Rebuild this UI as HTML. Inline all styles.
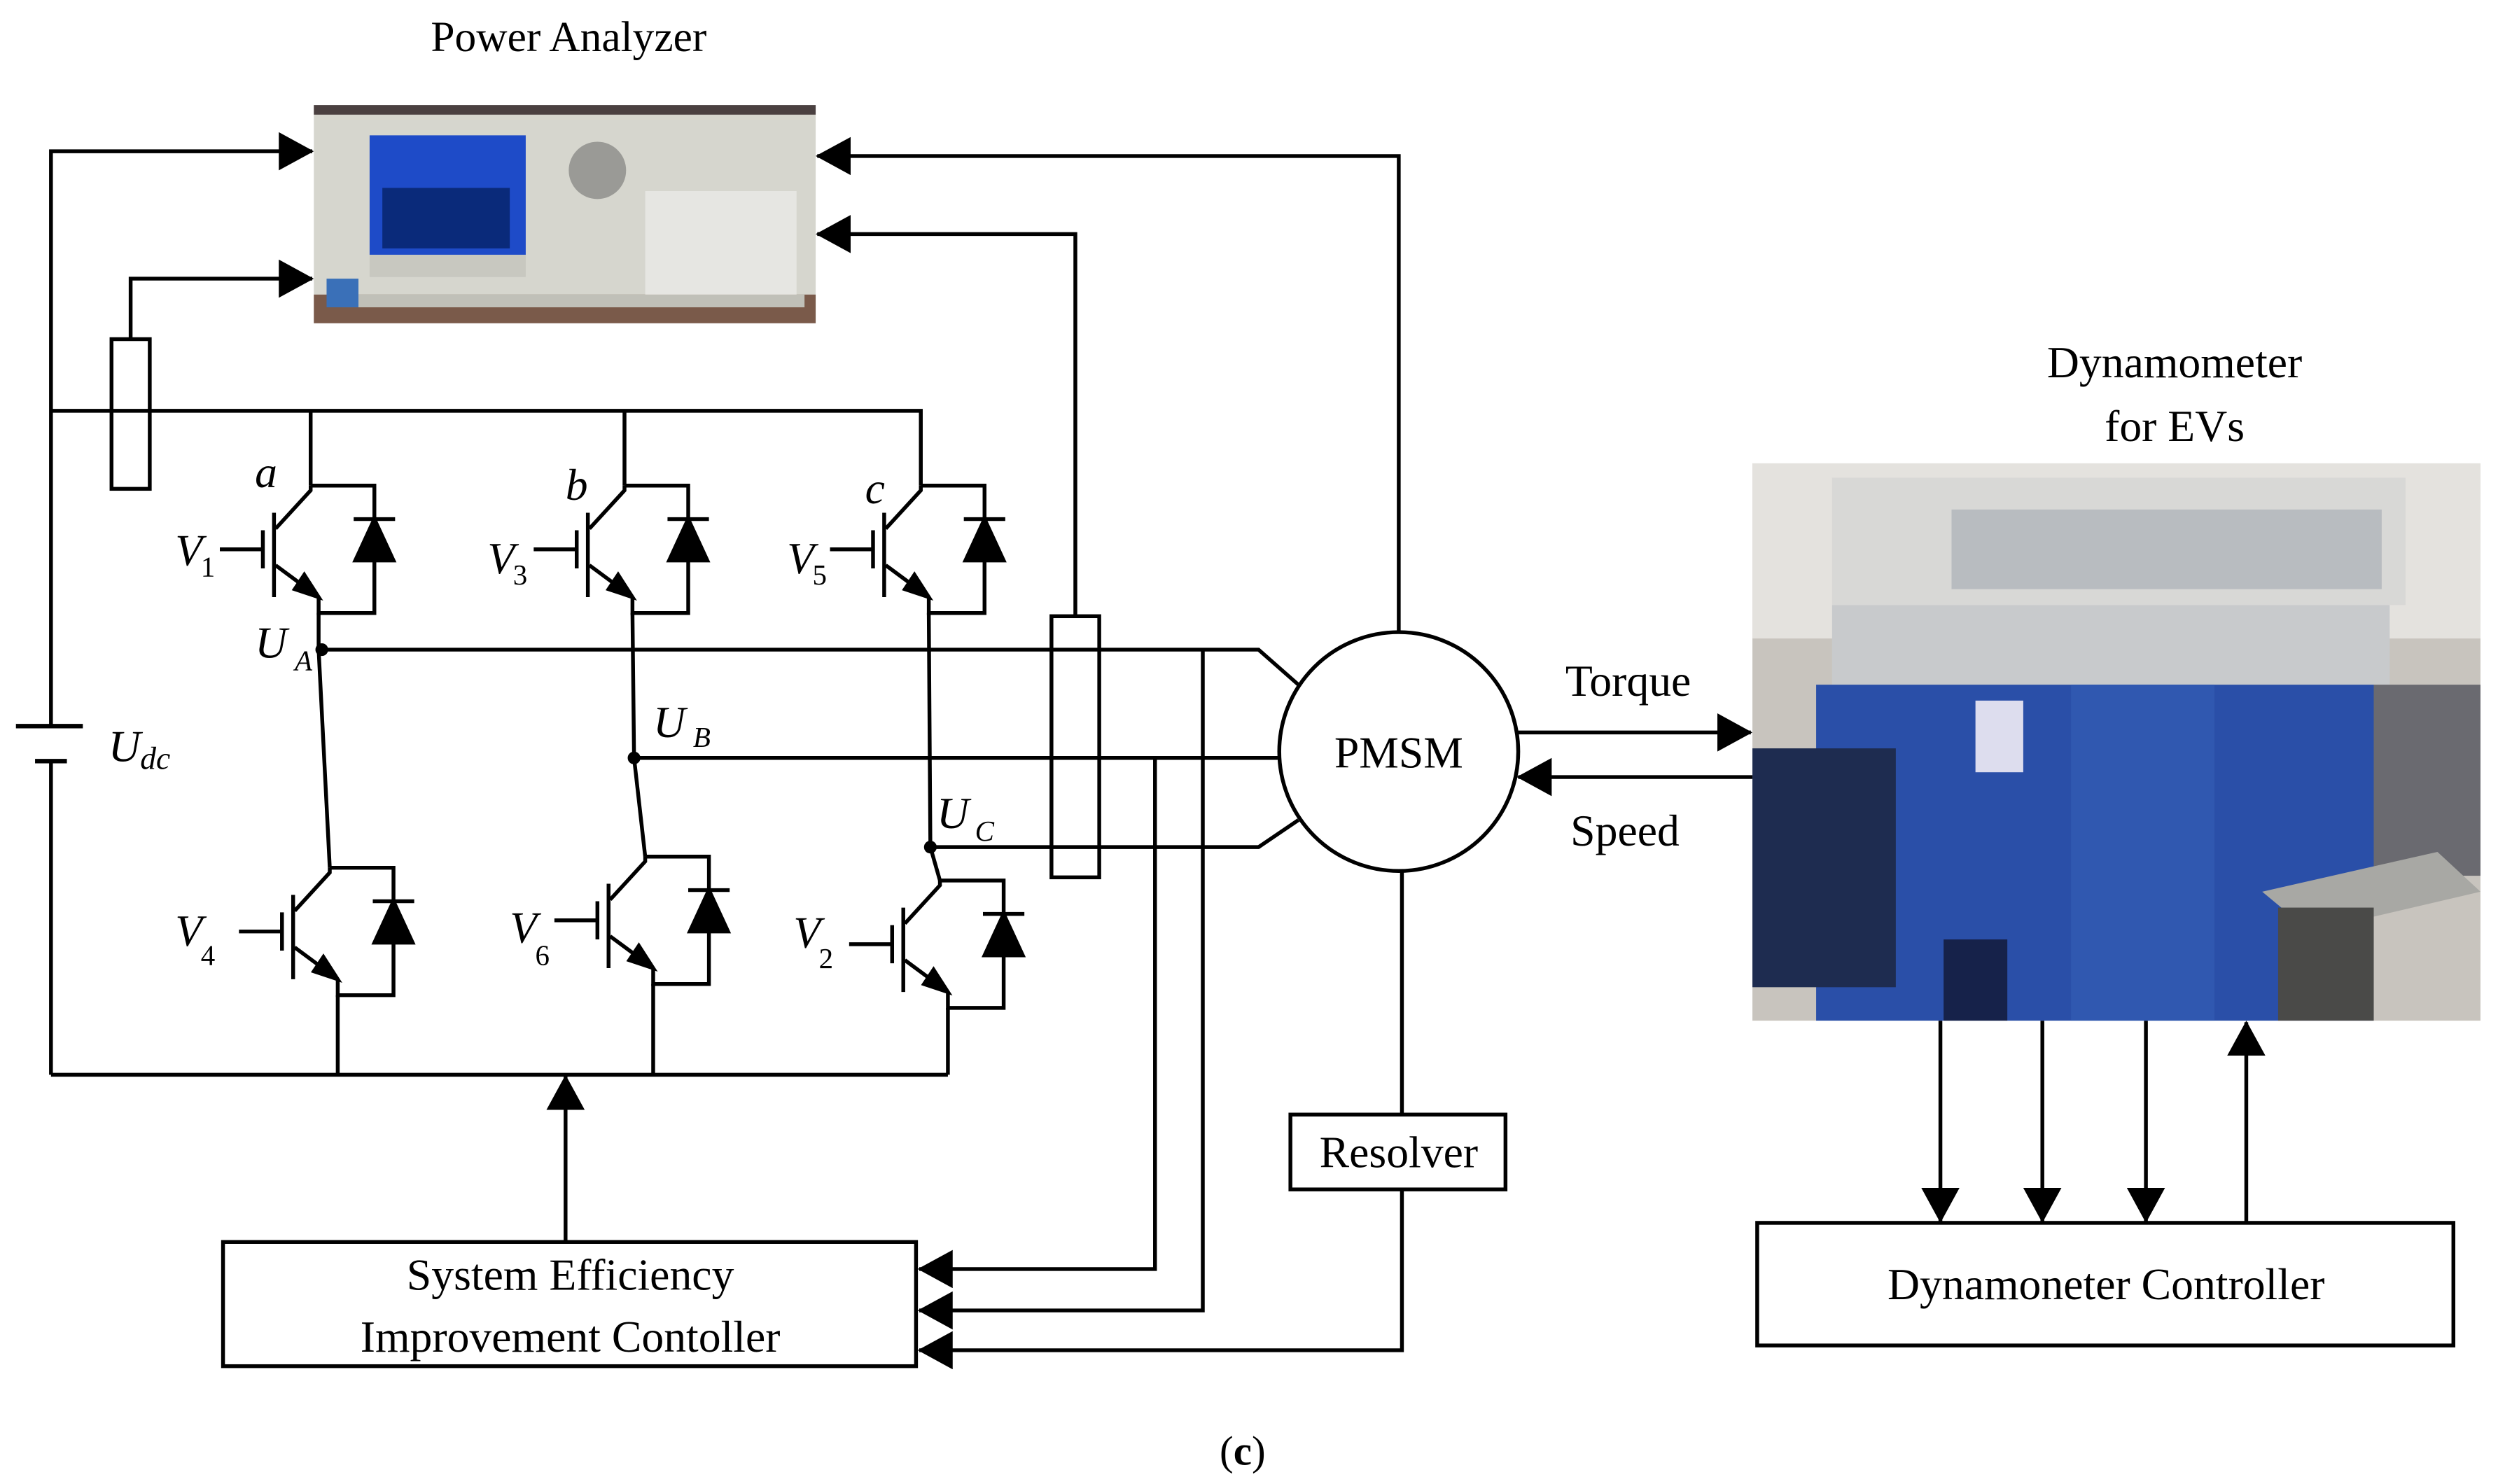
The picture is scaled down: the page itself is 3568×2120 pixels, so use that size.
<!DOCTYPE html>
<html><head><meta charset="utf-8"><style>
html,body{margin:0;padding:0;background:#fff}
svg{display:block}
text{font-family:"Liberation Serif",serif;fill:#000}
.i{font-style:italic}
</style></head><body>
<svg width="3568" height="2120" viewBox="0 0 1568 932" preserveAspectRatio="none" xmlns="http://www.w3.org/2000/svg">
<defs>
<marker id="ah" viewBox="0 0 22 24" refX="21" refY="12" markerWidth="22" markerHeight="24" markerUnits="userSpaceOnUse" orient="auto"><path d="M0,0L22,12L0,24z"/></marker>
<g id="igbt" fill="none" stroke="#000" stroke-width="2.4">
<path d="M0,0H40V80H5V70"/>
<path d="M0,0V3L-22,27"/>
<path d="M-23,17V70"/>
<path d="M-30,28V52M-57,40H-30"/>
<path d="M-22,50L5,70"/>
<path d="M5,70L-10,65L-4,56z" fill="#000"/>
<path d="M27,21H53"/>
<path d="M40,21L28,47H52z" fill="#000"/>
</g>
</defs>
<text x="357" y="32" font-size="27" text-anchor="middle">Power Analyzer</text>
<!-- power analyzer photo -->
<rect x="197" y="66" width="315" height="137" fill="#d6d6ce"/>
<rect x="197" y="66" width="315" height="6" fill="#4a4040"/>
<rect x="197" y="185" width="315" height="18" fill="#7a5a4a"/>
<rect x="215" y="185" width="290" height="8" fill="#c0c0b8"/>
<rect x="232" y="85" width="98" height="75" fill="#1e4bc8"/>
<rect x="240" y="118" width="80" height="38" fill="#0a2a7a"/>
<rect x="232" y="160" width="98" height="14" fill="#c8c8c0"/>
<circle cx="375" cy="107" r="18" fill="#9a9a96"/>
<rect x="405" y="120" width="95" height="65" fill="#e6e6e2"/>
<rect x="205" y="175" width="20" height="18" fill="#3a70b8"/>
<g fill="none" stroke="#000" stroke-width="2.4">
<path d="M32,675V478M32,456V95H196" marker-end="url(#ah)"/>
<path d="M82,213V175H196" marker-end="url(#ah)"/>
<rect x="70" y="213" width="24" height="94"/>
<path d="M10,456H52M22,478H42" stroke-width="2.8"/>
<path d="M32,258H578V305M195,258V305M392,258V305"/>
<path d="M32,675H595"/>
<path d="M200,385V408L207,545M212,625V675"/>
<path d="M397,385L398,476L405,538M410,618V675"/>
<path d="M583,385L584,532L590,553M595,633V675"/>
<path d="M202,408H790L815,430"/>
<path d="M398,476H802"/>
<path d="M584,532H790L815,515"/>
<circle cx="878" cy="472" r="75"/>
<rect x="660" y="387" width="30" height="164"/>
<path d="M675,387V147H513" marker-end="url(#ah)"/>
<path d="M878,397V98H513" marker-end="url(#ah)"/>
<path d="M725,476V797H577" marker-end="url(#ah)"/>
<path d="M755,408V823H577" marker-end="url(#ah)"/>
<path d="M880,547V700M880,747V848H577" marker-end="url(#ah)"/>
<rect x="810" y="700" width="135" height="47"/>
<rect x="140" y="780" width="435" height="78"/>
<path d="M355,780V676" marker-end="url(#ah)"/>
<path d="M953,460H1099" marker-end="url(#ah)"/>
<path d="M1100,488H953" marker-end="url(#ah)"/>
<path d="M1218,641V767" marker-end="url(#ah)"/>
<path d="M1282,641V767" marker-end="url(#ah)"/>
<path d="M1347,641V767" marker-end="url(#ah)"/>
<path d="M1410,768V642" marker-end="url(#ah)"/>
<rect x="1103" y="768" width="437" height="77"/>
</g>
<g fill="#000"><circle cx="202" cy="408" r="4"/><circle cx="398" cy="476" r="4"/><circle cx="584" cy="532" r="4"/></g>
<use href="#igbt" x="195" y="305"/>
<use href="#igbt" x="392" y="305"/>
<use href="#igbt" x="578" y="305"/>
<use href="#igbt" x="207" y="545"/>
<use href="#igbt" x="405" y="538"/>
<use href="#igbt" x="590" y="553"/>
<g font-size="28">
<text x="160" y="306" class="i">a</text>
<text x="355" y="314" class="i">b</text>
<text x="543" y="316" class="i">c</text>
<text x="110" y="355" class="i">V</text><text x="126" y="362" font-size="18">1</text>
<text x="306" y="360" class="i">V</text><text x="322" y="367" font-size="18">3</text>
<text x="494" y="360" class="i">V</text><text x="510" y="367" font-size="18">5</text>
<text x="110" y="594" class="i">V</text><text x="126" y="606" font-size="18">4</text>
<text x="320" y="592" class="i">V</text><text x="336" y="606" font-size="18">6</text>
<text x="498" y="595" class="i">V</text><text x="514" y="608" font-size="18">2</text>
<text x="160" y="413" class="i">U</text><text x="185" y="421" font-size="18" class="i">A</text>
<text x="410" y="463" class="i">U</text><text x="435" y="469" font-size="18" class="i">B</text>
<text x="588" y="520" class="i">U</text><text x="612" y="528" font-size="18" class="i">C</text>
<text x="68" y="478" class="i">U</text><text x="88" y="483" font-size="20" class="i">dc</text>
</g>
<text x="878" y="482" font-size="28" text-anchor="middle">PMSM</text>
<text x="1022" y="437" font-size="28" text-anchor="middle">Torque</text>
<text x="1020" y="531" font-size="28" text-anchor="middle">Speed</text>
<text x="878" y="733" font-size="28" text-anchor="middle">Resolver</text>
<text x="358" y="810" font-size="28" text-anchor="middle">System Efficiency</text>
<text x="358" y="849" font-size="28" text-anchor="middle">Improvement Contoller</text>
<text x="1322" y="816" font-size="28" text-anchor="middle">Dynamoneter Controller</text>
<text x="1365" y="237" font-size="28" text-anchor="middle">Dynamometer</text>
<text x="1365" y="277" font-size="28" text-anchor="middle">for EVs</text>
<text x="780" y="920" font-size="26" text-anchor="middle">(<tspan font-weight="bold">c</tspan>)</text>
<!-- dynamometer photo -->
<rect x="1100" y="291" width="457" height="350" fill="#c8c4be"/>
<rect x="1100" y="291" width="457" height="110" fill="#e4e2de"/>
<rect x="1150" y="300" width="360" height="80" fill="#d8d8d6"/>
<rect x="1225" y="320" width="270" height="50" fill="#b8bcc0"/>
<rect x="1150" y="380" width="350" height="50" fill="#c8cacc"/>
<rect x="1140" y="430" width="350" height="211" fill="#2a4fa8"/>
<rect x="1300" y="430" width="90" height="211" fill="#3058b0"/>
<rect x="1100" y="470" width="90" height="150" fill="#1e2c50"/>
<rect x="1240" y="440" width="30" height="45" fill="#dde"/>
<rect x="1490" y="430" width="67" height="120" fill="#6a6a70"/>
<polygon points="1420,560 1530,535 1557,560 1450,585" fill="#a8a8a4"/>
<rect x="1430" y="570" width="60" height="71" fill="#4a4a48"/>
<rect x="1220" y="590" width="40" height="51" fill="#16224a"/>
</svg>
</body></html>
